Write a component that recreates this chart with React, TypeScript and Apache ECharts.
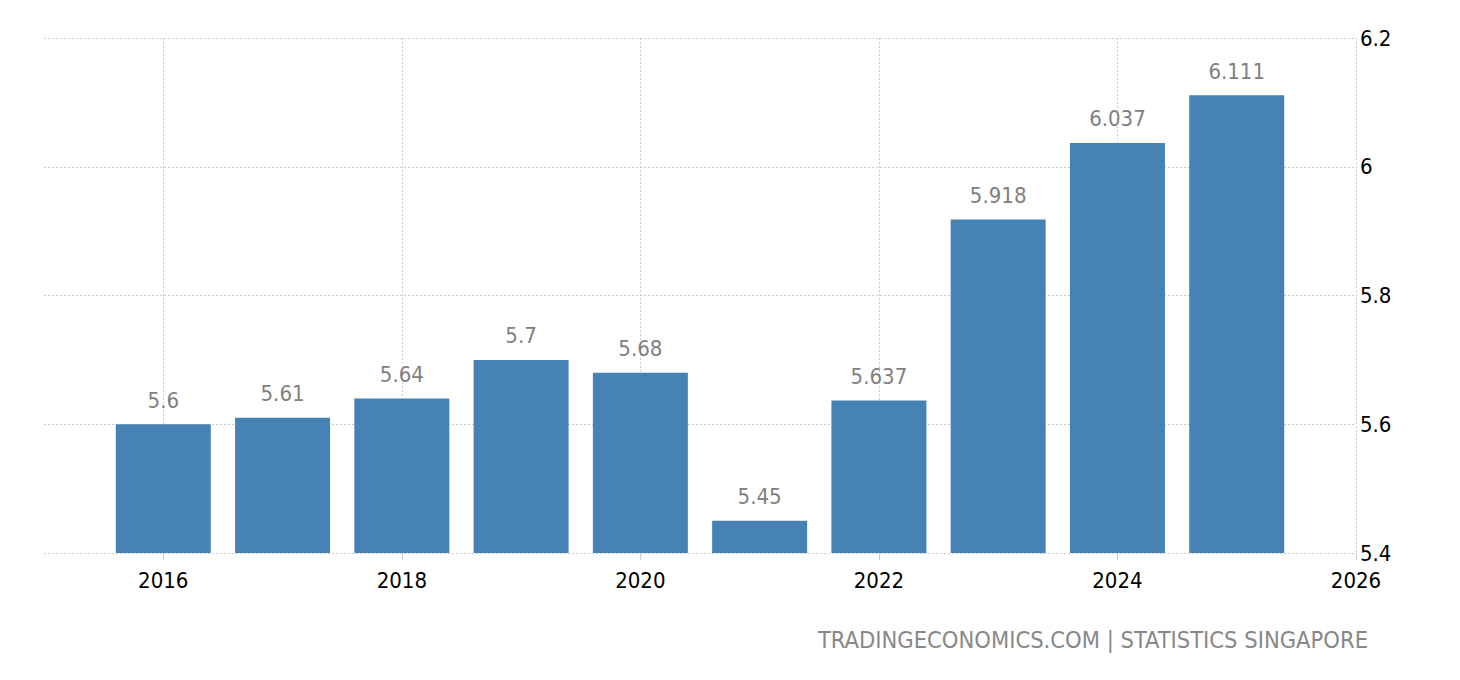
import React, { useEffect, useRef } from "react";
import * as echarts from "echarts";

// Years on the axis (first and last are padding slots with no bar)
const years: string[] = ["2015", "2016", "2017", "2018", "2019", "2020", "2021", "2022", "2023", "2024", "2025", "2026"];
const values: (number | null)[] = [null, 5.6, 5.61, 5.64, 5.7, 5.68, 5.45, 5.637, 5.918, 6.037, 6.111, null];
const valueLabels: string[] = ["", "5.6", "5.61", "5.64", "5.7", "5.68", "5.45", "5.637", "5.918", "6.037", "6.111", ""];
const yTicks: string[] = ["5.4", "5.6", "5.8", "6", "6.2"];
const footer = "TRADINGECONOMICS.COM | STATISTICS SINGAPORE";

const FONT = "DejaVu Sans Condensed";

export default function App() {
  const ref = useRef<HTMLDivElement>(null);

  useEffect(() => {
    document.body.style.margin = "0";
    if (!ref.current) return;
    const chart = echarts.init(ref.current, null, { renderer: "svg" });

    const evenYear = (index: number) => index > 0 && Number(years[index]) % 2 === 0;

    chart.setOption({
      animation: false,
      grid: { left: 44, right: 104, top: 38, bottom: 127, containLabel: false },
      xAxis: {
        type: "category",
        data: years,
        boundaryGap: false,
        axisLine: { show: false },
        axisTick: {
          show: true,
          interval: (i: number) => evenYear(i),
          length: 7,
          lineStyle: { color: "#cccccc" },
        },
        axisLabel: {
          interval: (i: number) => evenYear(i),
          color: "#000000",
          fontFamily: FONT,
          fontSize: 22,
          margin: 16,
        },
        splitLine: {
          show: true,
          interval: (i: number) => evenYear(i),
          lineStyle: { color: "#cccccc", type: [2, 2], width: 1 },
        },
      },
      yAxis: {
        type: "value",
        position: "right",
        min: 5.4,
        max: 6.2,
        interval: 0.2,
        axisLine: { show: false },
        axisTick: { show: false },
        axisLabel: {
          color: "#000000",
          fontFamily: FONT,
          fontSize: 22,
          margin: 4,
          formatter: (v: number) => {
            const idx = Math.round((v - 5.4) / 0.2);
            return yTicks[idx] ?? "";
          },
        },
        splitLine: {
          show: true,
          lineStyle: { color: "#cccccc", type: [2, 2], width: 1 },
        },
      },
      series: [
        {
          type: "bar",
          data: values,
          barWidth: 95,
          itemStyle: { color: "#4682b4" },
          label: {
            show: true,
            position: "top",
            distance: 13,
            color: "#7f7f7f",
            fontFamily: FONT,
            fontSize: 22,
            formatter: (p: any) => valueLabels[p.dataIndex] ?? "",
          },
        },
      ],
      graphic: [
        {
          type: "text",
          right: 92,
          top: 628,
          style: {
            text: footer,
            fill: "#888888",
            font: `23.5px "${FONT}"`,
          },
        },
      ],
    });

    return () => chart.dispose();
  }, []);

  return <div ref={ref} style={{ width: 1460, height: 680 }} />;
}
